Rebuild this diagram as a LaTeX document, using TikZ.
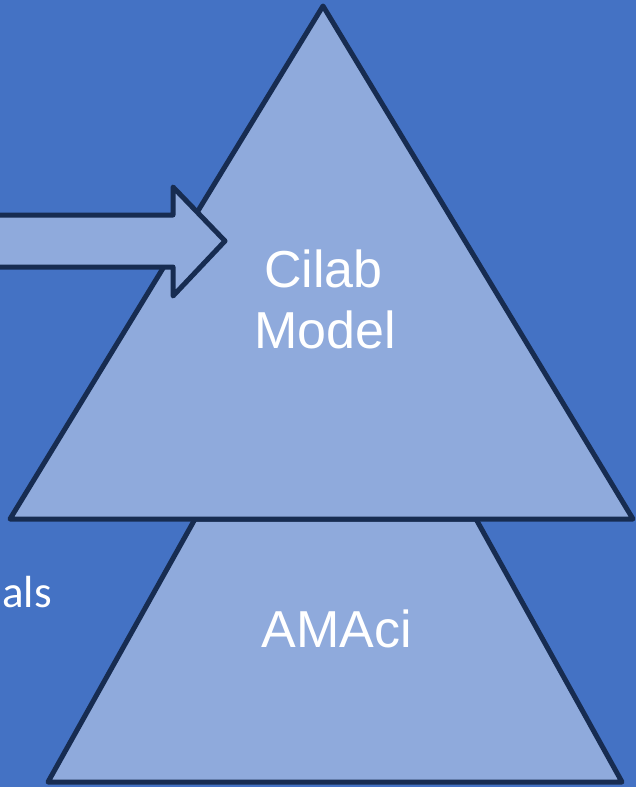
\documentclass[tikz,border=0pt]{standalone}
\usepackage{fontspec}
\setmainfont{Liberation Sans}
\newfontfamily\carlito{Carlito}
\definecolor{bgblue}{HTML}{4472C4}
\definecolor{lightfill}{HTML}{8FAADC}
\definecolor{edge}{HTML}{172C51}
\tikzset{
  shapebox/.style={fill=lightfill, draw=edge, line width=5pt, line join=round},
  bigtext/.style={text=white, font=\fontsize{52}{61}\selectfont, align=center, inner sep=0pt},
}
\begin{document}
\begin{tikzpicture}[x=1pt, y=-1pt]
\useasboundingbox (0,0) rectangle (636,787);
\clip (0,0) rectangle (636,787);
\fill[bgblue] (0,0) rectangle (636,787);
% lower trapezoid
\draw[shapebox] (195,519) -- (476,519) -- (622,782) -- (48,782) -- cycle;
% upper triangle
\draw[shapebox] (323,6) -- (633,519) -- (10,519) -- cycle;
% block arrow
\draw[shapebox] (-10,215) -- (173,215) -- (173,187) -- (225,241) -- (173,296) -- (173,267) -- (-10,267) -- cycle;
\node[bigtext, anchor=base] (cilab) at (323.5,287) {Cilab};
\node[bigtext, anchor=base] (model) at (325,348) {Model};
\node[bigtext, anchor=base] (amaci) at (336.5,647) {AMAci};
\node[text=white, font=\carlito\fontsize{45}{52}\selectfont, anchor=base east, inner sep=0pt] (als) at (52,607) {als};
\end{tikzpicture}
\end{document}
